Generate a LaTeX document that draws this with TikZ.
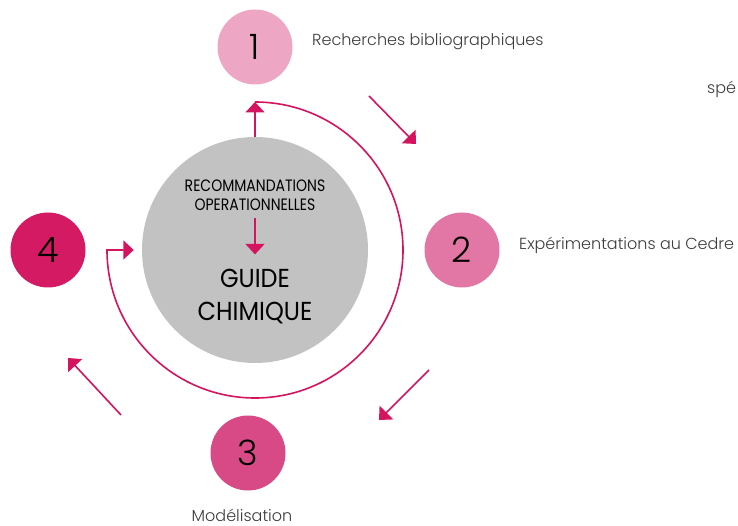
\documentclass[tikz,border=0pt]{standalone}
\usepackage{fontspec}
\setmainfont{Poppins}
\newfontfamily\thinfont{Poppins Light}
\newfontfamily\capsfont{Poppins}[FakeStretch=0.85]
\newfontfamily\guidefont{Poppins}[FakeStretch=0.92]
\usetikzlibrary{arrows.meta,positioning}

\definecolor{stepone}{HTML}{EDA6C3}
\definecolor{steptwo}{HTML}{E276A4}
\definecolor{stepthree}{HTML}{D84A85}
\definecolor{stepfour}{HTML}{D41A62}
\definecolor{loopmagenta}{HTML}{D4145F}
\definecolor{coregrey}{HTML}{C2C2C2}
\definecolor{labelgrey}{HTML}{3C3C3C}

\tikzset{
  stepdisc/.style={circle, minimum size=75pt, inner sep=0pt, text=black,
    font=\thinfont\fontsize{35}{35}\selectfont},
  steplabel/.style={inner sep=0pt, text=labelgrey,
    font=\thinfont\fontsize{16}{19}\selectfont},
  pinkline/.style={line width=1.6pt, draw=loopmagenta},
  pinkarrow/.style={pinkline, -{Triangle[length=10.5pt,width=19pt]}}
}

\begin{document}
\begin{tikzpicture}[x=1pt, y=-1pt]
			\useasboundingbox (0,0) rectangle (738,526);
			%%%%% START %%%%%
			
			\node[circle, fill=coregrey, minimum size=226pt, inner sep=0pt] (core) at (255,250) {};
			\node[align=center, inner sep=0pt, font=\capsfont\fontsize{16.5}{19}\selectfont] (reco) at (255,195) {RECOMMANDATIONS\\OPERATIONNELLES};
			\node[align=center, inner sep=0pt, font=\guidefont\fontsize{26}{33}\selectfont] (guide) at (255,297) {GUIDE\\CHIMIQUE};
			\draw[pinkarrow, shorten <=7pt, shorten >=15pt] (reco.south) -- (guide.north);
			
			\node[stepdisc, fill=stepone] (n1) at (255,47) {1};
			\node[stepdisc, fill=steptwo] (n2) at (462,250) {2};
			\node[stepdisc, fill=stepthree] (n3) at (248,453) {3};
			\node[stepdisc, fill=stepfour] (n4) at (48,250) {4};
			
			\node[steplabel, anchor=base west] (lab1) at (312,46) {Recherches bibliographiques};
			\node[steplabel, anchor=base west] (lab2) at (519,250) {Expérimentations au Cedre};
			\node[steplabel, anchor=base] (lab3) at (242,521) {Modélisation};
			\node[steplabel, anchor=base west] (lab0) at (707,94) {spé};
			
			% boucle autour du guide
			\coordinate (ringtop) at (255,102);
			\draw[pinkarrow] (core.north) -- (ringtop);
			\draw[pinkarrow] (ringtop) arc[start angle=90, end angle=-180, radius=148pt] -- ([xshift=-8pt]core.west);
			
			% fleches entre les etapes
			\coordinate (d1a) at (369,96);
			\coordinate (d1b) at (416,144);
			\coordinate (d2a) at (429,370);
			\coordinate (d2b) at (379,420);
			\coordinate (d3a) at (121,415);
			\coordinate (d3b) at (68,358);
			\draw[pinkarrow] (d1a) -- (d1b);
			\draw[pinkarrow] (d2a) -- (d2b);
			\draw[pinkarrow] (d3a) -- (d3b);
			
			%%%%% END %%%%%
\end{tikzpicture}
\end{document}
